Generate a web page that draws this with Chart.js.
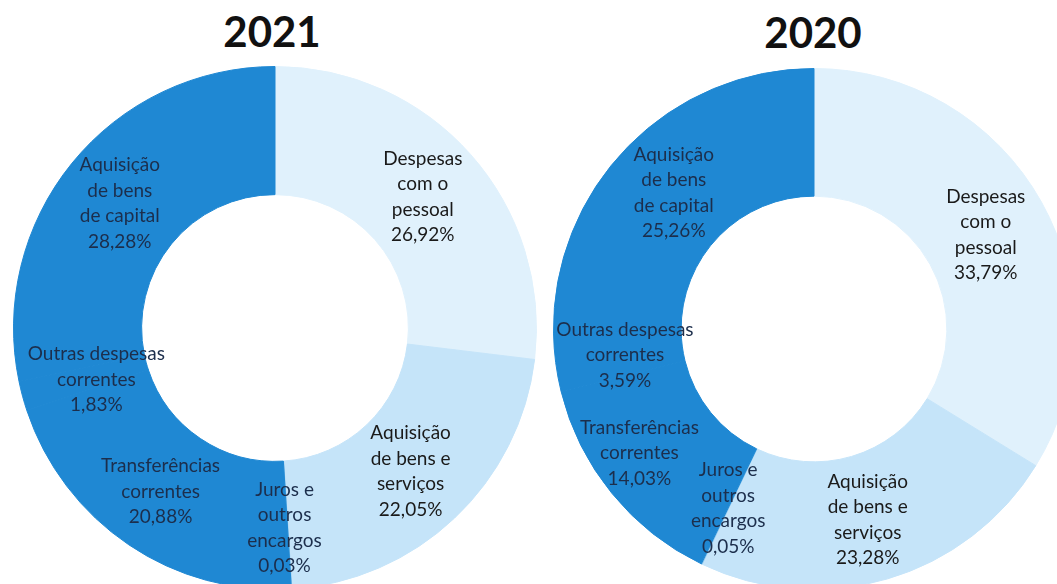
<!DOCTYPE html>
<html lang="pt">
<head>
<meta charset="utf-8">
<title>Despesas 2021 / 2020</title>
<script src="https://cdn.jsdelivr.net/npm/chart.js@4"></script>
<style>
  html, body { margin: 0; padding: 0; background: #fff; overflow: hidden; width: 1057px; height: 584px; }
  .title { position: absolute; font-family: Lato, "Open Sans", sans-serif; font-weight: 700; font-size: 42px; line-height: 42px; color: #111; width: 200px; text-align: center; }
  canvas { position: absolute; }
</style>
</head>
<body>
<div class="title" style="left:172px; top:10px;">2021</div>
<div class="title" style="left:713px; top:11px;">2020</div>
<canvas id="chart2021" width="524" height="524" style="left:13px; top:66px;"></canvas>
<canvas id="chart2020" width="522" height="522" style="left:553px; top:68px;"></canvas>

<script>
// categories, clockwise from 12 o'clock
const categories = [
  'Despesas com o pessoal',
  'Aquisição de bens e serviços',
  'Juros e outros encargos',
  'Transferências correntes',
  'Outras despesas correntes',
  'Aquisição de bens de capital'
];
const labelLines = [
  ['Despesas', 'com o', 'pessoal'],
  ['Aquisição', 'de bens e', 'serviços'],
  ['Juros e', 'outros', 'encargos'],
  ['Transferências', 'correntes'],
  ['Outras despesas', 'correntes'],
  ['Aquisição', 'de bens', 'de capital']
];
const values2021 = [26.92, 22.05, 0.03, 20.88, 1.83, 28.28];
const values2020 = [33.79, 23.28, 0.05, 14.03, 3.59, 25.26];

const sliceColors = ['#e0f1fc', '#c5e4f9', '#8cc6ee', '#1f88d3', '#1f88d3', '#1f88d3'];
const textColors = ['#1a1a1a', '#1a1a1a', '#1c2e4c', '#1c2e4c', '#1c2e4c', '#1c2e4c'];

// small shifts of a few labels, like Excel does to keep them inside
const nudge2021 = [[0, 0], [0, 0], [-3, 3], [-4, 0], [12, 0], [-2, 0]];
const nudge2020 = [[0, 2], [-2, 2], [-1, 2], [-22, 0], [6, 1], [0, 2]];

function fmtPct(v) {
  return v.toFixed(2).replace('.', ',') + '%';
}

// draws the multi-line labels at the middle of each slice
function makeLabelPlugin(values, nudges) {
  return {
    id: 'sliceLabels',
    afterDatasetsDraw(chart) {
      const ctx = chart.ctx;
      const meta = chart.getDatasetMeta(0);
      const lineH = 25.5;
      ctx.save();
      ctx.font = '19px Lato, "Open Sans", sans-serif';
      ctx.textAlign = 'center';
      ctx.textBaseline = 'middle';
      meta.data.forEach((arc, i) => {
        const pos = arc.tooltipPosition();
        const lines = [...labelLines[i], fmtPct(values[i])];
        const x = pos.x + nudges[i][0];
        const y0 = pos.y + nudges[i][1] - (lines.length - 1) * lineH / 2;
        ctx.fillStyle = textColors[i];
        lines.forEach((t, k) => ctx.fillText(t, x, y0 + k * lineH));
      });
      ctx.restore();
    }
  };
}

function drawDoughnut(id, values, nudges) {
  const ctx = document.getElementById(id).getContext('2d');
  new Chart(ctx, {
    type: 'doughnut',
    data: {
      labels: categories,
      datasets: [{
        data: values,
        backgroundColor: sliceColors,
        borderColor: sliceColors, // same colour hides the anti-aliased seams
        borderWidth: 1
      }]
    },
    options: {
      responsive: false,
      animation: false,
      cutout: '51%',
      layout: { padding: 0 },
      plugins: {
        legend: { display: false },
        tooltip: { enabled: false }
      }
    },
    plugins: [makeLabelPlugin(values, nudges)]
  });
}

drawDoughnut('chart2021', values2021, nudge2021);
drawDoughnut('chart2020', values2020, nudge2020);
</script>
</body>
</html>
